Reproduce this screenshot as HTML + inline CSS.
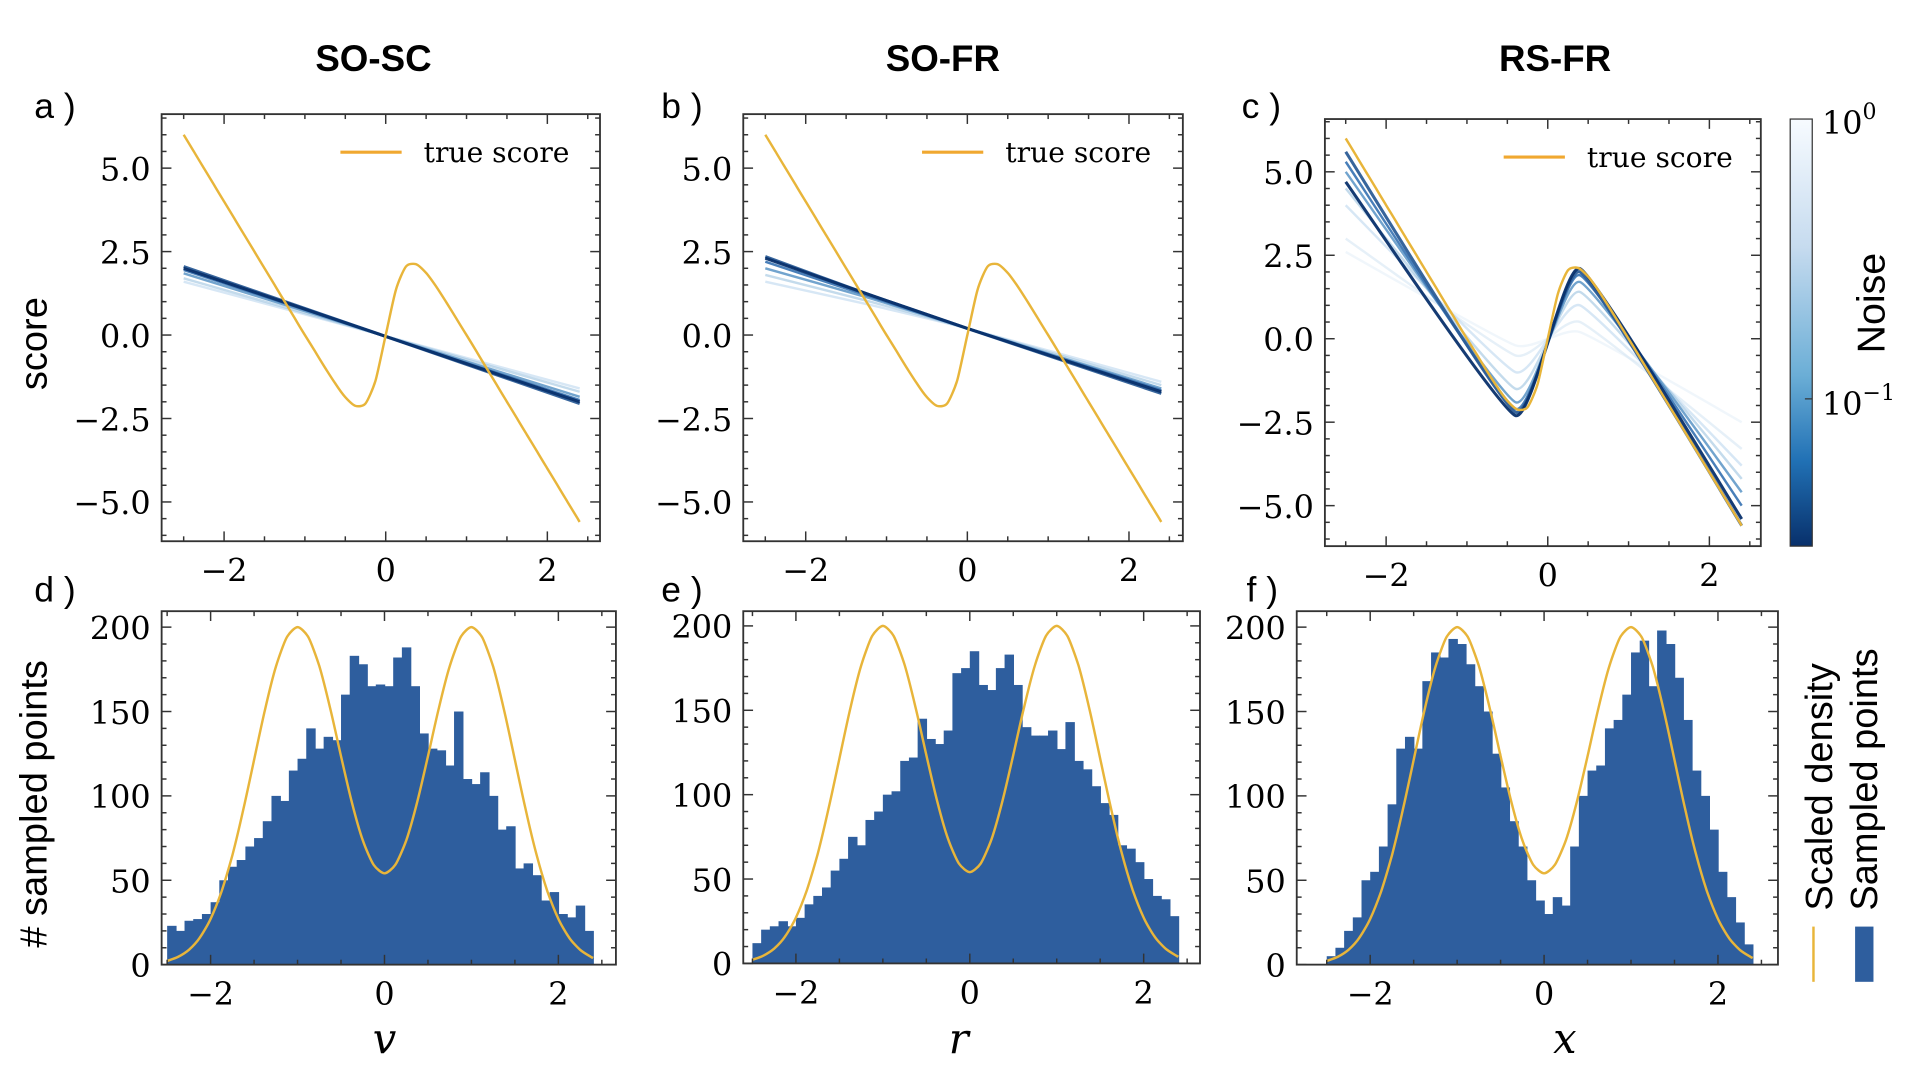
<!DOCTYPE html>
<html><head><meta charset="utf-8"><style>
html,body{margin:0;padding:0;background:#fff;width:1920px;height:1080px;overflow:hidden}
svg{display:block}
</style></head><body>
<svg id="fig" width="1920" height="1080" viewBox="0 0 1568 880" preserveAspectRatio="none" xmlns="http://www.w3.org/2000/svg">
<defs><linearGradient id="cbg" x1="0" y1="0" x2="0" y2="1">
<stop offset="0" stop-color="#f7fbff"/><stop offset="0.3" stop-color="#c6dbef"/><stop offset="0.6" stop-color="#6baed6"/><stop offset="0.8" stop-color="#2171b5"/><stop offset="1" stop-color="#08306b"/></linearGradient></defs>
<g font-family="Liberation Sans, sans-serif" fill="#000">
<text x="305" y="58" font-size="30" font-weight="bold" text-anchor="middle">SO-SC</text>
<text x="770" y="58" font-size="30" font-weight="bold" text-anchor="middle">SO-FR</text>
<text x="1270" y="58" font-size="30" font-weight="bold" text-anchor="middle">RS-FR</text>
<text x="28" y="96" font-size="29">a )</text>
<text x="540" y="96" font-size="29">b )</text>
<text x="1014" y="96" font-size="29">c )</text>
<text x="28" y="490" font-size="29">d )</text>
<text x="540" y="490" font-size="29">e )</text>
<text x="1018" y="490" font-size="29">f )</text>
<text transform="translate(38,280) rotate(-90)" font-size="31" text-anchor="middle">score</text>
<text transform="translate(38,655) rotate(-90)" font-size="31" text-anchor="middle"># sampled points</text>
<text x="314" y="858" font-family="DejaVu Serif, serif" font-style="italic" font-size="34" text-anchor="middle">v</text>
<text x="783" y="858" font-family="DejaVu Serif, serif" font-style="italic" font-size="34" text-anchor="middle">r</text>
<text x="1278" y="858" font-family="DejaVu Serif, serif" font-style="italic" font-size="34" text-anchor="middle">x</text>
<rect x="1462" y="97" width="18" height="348" fill="url(#cbg)" stroke="#333" stroke-width="1"/>
<text x="1488" y="109" font-family="DejaVu Serif, serif" font-size="26">10<tspan dy="-12" font-size="18">0</tspan></text>
<text x="1488" y="338" font-family="DejaVu Serif, serif" font-size="26">10<tspan dy="-12" font-size="18">−1</tspan></text>
<line x1="1480" y1="325" x2="1474" y2="325" stroke="#333"/>
<text transform="translate(1539,247) rotate(-90)" font-size="32" text-anchor="middle">Noise</text>
<line x1="1481" y1="755" x2="1481" y2="800" stroke="#e8b53a" stroke-width="2"/>
<text transform="translate(1496,742) rotate(-90)" font-size="31">Scaled density</text>
<rect x="1515" y="755" width="15" height="45" fill="#2e5e9e"/>
<text transform="translate(1533,742) rotate(-90)" font-size="31">Sampled points</text>
</g>
<g id="plots"></g>
</svg>
<script>
// ---- data ----
const trueX = [-2.5,-2.375,-2.25,-2.125,-2,-1.875,-1.75,-1.625,-1.5,-1.375,-1.25,-1.125,-1,-0.875,-0.75,-0.625,-0.5,-0.375,-0.25,-0.125,0,0.125,0.25,0.375,0.5,0.625,0.75,0.875,1,1.125,1.25,1.375,1.5,1.625,1.75,1.875,2,2.125,2.25,2.375,2.4];
const trueScore = [6.0,5.5,5.0,4.5,4.0,3.5,3.0,2.5,2.0,1.5,1.0,0.5,0.0,-0.49,-0.98,-1.45,-1.86,-2.12,-2.05,-1.35,0,1.35,2.05,2.12,1.86,1.45,0.98,0.49,0,-0.5,-1.0,-1.5,-2.0,-2.5,-3.0,-3.5,-4.0,-4.5,-5.0,-5.5,-5.6];
const densX = [-2.5,-2.375,-2.25,-2.125,-2,-1.875,-1.75,-1.625,-1.5,-1.375,-1.25,-1.125,-1,-0.875,-0.75,-0.625,-0.5,-0.375,-0.25,-0.125,0,0.125,0.25,0.375,0.5,0.625,0.75,0.875,1,1.125,1.25,1.375,1.5,1.625,1.75,1.875,2,2.125,2.25,2.375,2.4];
const densY = [2.2,4.6,8.8,15.9,27.1,43.3,64.9,91.6,121.3,151,176.5,193.8,200,194,176.9,152,123.5,96.1,73.7,59.2,54.1,59.2,73.7,96.1,123.5,152,176.9,194,200,193.8,176.5,151,121.3,91.6,64.9,43.3,27.1,15.9,8.8,4.6,4.0];
const modelKnotsA = [-2.5,2.4];
const modelA = [[2.0,-2.0],[2.05,-2.05],[1.95,-1.95],[1.85,-1.85],[1.7,-1.7],[1.6,-1.6]];
const modelKnotsB = [-2.5,-1.2,0,2.4];
const modelB = [[2.3,1.2,0.2,-1.7],[2.35,1.2,0.2,-1.75],[2.2,1.15,0.2,-1.65],[2.0,1.1,0.2,-1.6],[1.8,1.0,0.2,-1.5],[1.6,0.9,0.2,-1.4]];
const modelKnotsC = [-2.5,-0.4,0.4,2.4];
const modelC = [[4.7,-2.3,2.1,-5.4],[5.6,-2.2,2.0,-5.6],[5.3,-2.1,1.9,-5.0],[5.0,-1.9,1.7,-4.6],[4.5,-1.5,1.4,-4.2],[4.0,-1.0,1.0,-3.8],[3.0,-0.5,0.5,-3.3],[2.6,-0.2,0.2,-2.5]];
const histD = [23,20,26,27,30,37,50,58,62,70,75,85,100,97,115,122,140,128,135,133,160,183,178,165,166,165,182,188,165,137,128,127,118,150,110,107,114,100,80,82,57,60,53,38,43,30,28,35,20];
const histE = [12,20,22,25,22,27,35,40,45,55,62,75,70,85,90,100,102,120,122,145,133,130,138,172,175,185,165,162,175,183,165,140,135,135,138,127,143,120,115,105,95,88,70,68,60,50,40,38,28];
const histF = [5,10,20,28,50,55,70,95,128,135,128,168,185,182,193,190,178,165,150,125,105,85,70,50,38,30,40,35,70,100,115,118,140,145,160,185,192,165,198,190,170,145,115,100,80,55,40,25,12];
const scoreTicks = [-5,-2.5,0,2.5,5];
const scoreTickLabels = ["−5.0","−2.5","0.0","2.5","5.0"];
const histTicks = [0,50,100,150,200];
const xTicks = [-2,0,2];
const xTickLabels = ["−2","0","2"];
const noiseColors = ["#08306b","#2c5d97","#3f78b5","#6a9fcb","#9cc3e0","#bdd7ee","#d6e6f4","#e6f0f9"];

const NS="http://www.w3.org/2000/svg";
const root=document.getElementById('plots');
function mk(tag,attrs,parent){const e=document.createElementNS(NS,tag);for(const k in attrs)e.setAttribute(k,attrs[k]);(parent||root).appendChild(e);return e;}

function panel(name,box,xr,yr,yTicks,yLabels,yMinor){
  const g=mk('g',{});
  
  
  const sx=v=>box.x0+(v-xr[0])/(xr[1]-xr[0])*(box.x1-box.x0);
  const sy=v=>box.y1-(v-yr[0])/(yr[1]-yr[0])*(box.y1-box.y0);
  const clip=mk('clipPath',{id:name+'-clip'},g);
  mk('rect',{x:box.x0,y:box.y0,width:box.x1-box.x0,height:box.y1-box.y0},clip);
  const data=mk('g',{'clip-path':'url(#'+name+'-clip)'},g);
  const ax=mk('g',{},g);
  for(let v=Math.ceil(xr[0]*2)/2; v<=xr[1]; v+=0.5){
    const major=Math.abs(v-Math.round(v/2)*2)<1e-6;const L=major?8:4;
    mk('line',{x1:sx(v),x2:sx(v),y1:box.y1,y2:box.y1-L,stroke:'#333','stroke-width':1.2},ax);
    mk('line',{x1:sx(v),x2:sx(v),y1:box.y0,y2:box.y0+L,stroke:'#333','stroke-width':1.2},ax);
  }
  for(let v=Math.ceil(yr[0]/yMinor)*yMinor; v<=yr[1]; v+=yMinor){
    const major=yTicks.some(t=>Math.abs(t-v)<1e-6);const L=major?8:4;
    mk('line',{x1:box.x0,x2:box.x0+L,y1:sy(v),y2:sy(v),stroke:'#333','stroke-width':1.2},ax);
    mk('line',{x1:box.x1,x2:box.x1-L,y1:sy(v),y2:sy(v),stroke:'#333','stroke-width':1.2},ax);
  }
  mk('rect',{x:box.x0,y:box.y0,width:box.x1-box.x0,height:box.y1-box.y0,fill:'none',stroke:'#333','stroke-width':1.5},ax);
  yTicks.forEach((t,i)=>{const tx=mk('text',{x:box.x0-9,y:sy(t)+10,'font-family':'DejaVu Serif, serif','font-size':26,'text-anchor':'end'},ax);tx.textContent=yLabels[i];
    
    });
  xTicks.forEach((t,i)=>{const tx=mk('text',{x:sx(t),y:box.y1+33,'font-family':'DejaVu Serif, serif','font-size':26,'text-anchor':'middle'},ax);tx.textContent=xTickLabels[i];
    
    });
  return {sx,sy,data,g};
}
function pathOf(xs,ys,sx,sy,t){
  t=(t===undefined)?0.12:t;
  const P=xs.map((x,i)=>[sx(x),sy(ys[i])]);
  let d='M'+P[0][0].toFixed(1)+','+P[0][1].toFixed(1);
  for(let i=0;i<P.length-1;i++){
    const p0=P[Math.max(i-1,0)],p1=P[i],p2=P[i+1],p3=P[Math.min(i+2,P.length-1)];
    const c1=[p1[0]+(p2[0]-p0[0])*t,p1[1]+(p2[1]-p0[1])*t];
    const c2=[p2[0]-(p3[0]-p1[0])*t,p2[1]-(p3[1]-p1[1])*t];
    d+=' C'+c1.map(v=>v.toFixed(1)).join(',')+' '+c2.map(v=>v.toFixed(1)).join(',')+' '+p2[0].toFixed(1)+','+p2[1].toFixed(1);
  }
  return d;
}

function scorePanel(name,box,x0c,knots,models,legY){
  const xr=[(box.x0-x0c)/66,(box.x1-x0c)/66];
  const y0=box.y0===93?273:276;
  const yr=[(y0-box.y1)/27.2,(y0-box.y0)/27.2];
  const p=panel(name,box,xr,yr,scoreTicks,scoreTickLabels,0.5);
  for(let i=models.length-1;i>=0;i--){
    const l=mk('path',{d:pathOf(knots,models[i],p.sx,p.sy,0.07),fill:'none',stroke:noiseColors[i],'stroke-width':i<2?2.5:2,'stroke-opacity':i<4?0.95:0.6,'stroke-linejoin':'round'},p.data);
    
    
  }
  const t=mk('path',{d:pathOf(trueX,trueScore,p.sx,p.sy),fill:'none',stroke:'#e8b53a','stroke-width':2},p.data);
  
  
  const lx=box.x0+146;
  const ll=mk('line',{x1:lx,x2:lx+50,y1:legY,y2:legY,stroke:'#f0a830','stroke-width':2.5},p.g);
  
  
  const lt=mk('text',{x:lx+68,y:legY+8,'font-family':'DejaVu Serif, serif','font-size':23},p.g);
  lt.textContent='true score';
  
  
}
function histPanel(name,box,x0c,hist){
  const xr=[(box.x0-x0c)/71,(box.x1-x0c)/71];
  const yr=[0,(box.y1-box.y0)/1.375];
  const p=panel(name,box,xr,yr,histTicks,histTicks.map(String),10);
  const w=4.9/hist.length;
  hist.forEach((h,i)=>{const a=-2.5+i*w;
    const r=mk('rect',{x:p.sx(a),y:p.sy(h),width:p.sx(a+w)-p.sx(a)+0.6,height:p.sy(0)-p.sy(h),fill:'#2e5e9e'},p.data);
    
    });
  const d=mk('path',{d:pathOf(densX,densY,p.sx,p.sy),fill:'none',stroke:'#e8b53a','stroke-width':2},p.data);
  
  
}
scorePanel('panel-a',{x0:132,x1:490,y0:93,y1:441},315,modelKnotsA,modelA,124);
scorePanel('panel-b',{x0:607,x1:966,y0:93,y1:441},790,modelKnotsB,modelB,124);
scorePanel('panel-c',{x0:1082,x1:1438,y0:97,y1:445},1264,modelKnotsC,modelC,128);
histPanel('panel-d',{x0:132,x1:503,y0:498,y1:786},314,histD);
histPanel('panel-e',{x0:607,x1:980,y0:498,y1:785},792,histE);
histPanel('panel-f',{x0:1059,x1:1452,y0:498,y1:786},1261,histF);
</script>
</body></html>
